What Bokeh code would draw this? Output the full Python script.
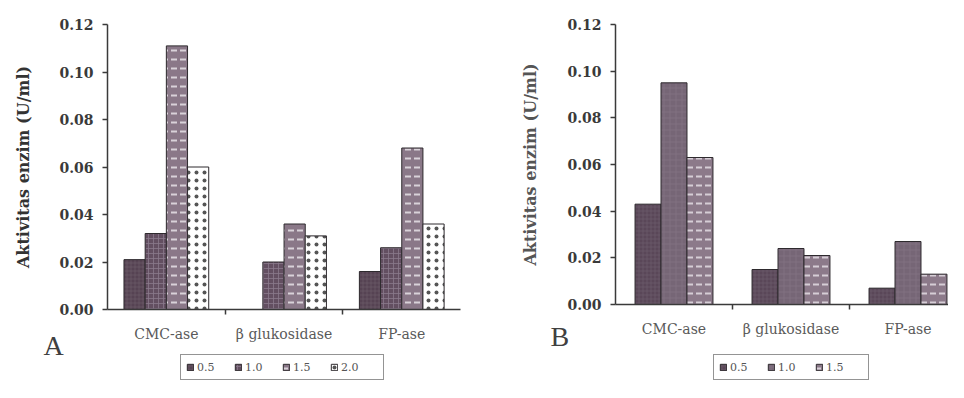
import math
from bokeh.plotting import figure
from bokeh.models import (ColumnDataSource, FixedTicker, Legend, LegendItem,
                          Label, Range1d, NumeralTickFormatter)
from bokeh.layouts import row
from bokeh.embed import file_html
from bokeh.resources import INLINE

# ---------------- data ----------------
categories = ["CMC-ase", "β glukosidase", "FP-ase"]
y_ticks = [0.00, 0.02, 0.04, 0.06, 0.08, 0.10, 0.12]

series_a = ["0.5", "1.0", "1.5", "2.0"]
a_05 = [0.021, 0.0, 0.016]
a_10 = [0.032, 0.020, 0.026]
a_15 = [0.111, 0.036, 0.068]
a_20 = [0.060, 0.031, 0.036]

series_b = ["0.5", "1.0", "1.5"]
b_05 = [0.043, 0.015, 0.007]
b_10 = [0.095, 0.024, 0.027]
b_15 = [0.063, 0.021, 0.013]

panel_a_label = "A"
panel_b_label = "B"
y_title = "Aktivitas enzim (U/ml)"

SERIF = "DejaVu Serif"
Y_MAX = 0.12

styles_a = [
    dict(fill_color="#564353", hatch_pattern="cross", hatch_color="#6e5c6b", hatch_scale=4, hatch_weight=0.6),
    dict(fill_color="#634f61", hatch_pattern="cross", hatch_color="#8a7a8c", hatch_scale=5, hatch_weight=0.8),
    dict(fill_color="#8a7888", hatch_pattern="horizontal_dash", hatch_color="#d9d2d9", hatch_scale=9, hatch_weight=2),
    dict(fill_color="#ffffff", hatch_pattern="dot", hatch_color="#555555", hatch_scale=8, hatch_weight=1.5),
]
styles_b = [
    dict(fill_color="#5a4758", hatch_pattern="cross", hatch_color="#6f5d6d", hatch_scale=4, hatch_weight=0.6),
    dict(fill_color="#766676", hatch_pattern="cross", hatch_color="#857585", hatch_scale=6, hatch_weight=0.6),
    dict(fill_color="#8c7a8a", hatch_pattern="horizontal_dash", hatch_color="#d6ced6", hatch_scale=9, hatch_weight=2),
]

FIG_H = 382


def make_panel(series_names, series_values, styles, width, axis_px, cat_px, top_px, zero_px,
               axis_end, bar_w, offsets, legend_px, tag, tag_px, ytitle_px, ylabel_color):
    # pixel anchors -> data ranges (frame == whole canvas; axes fixed at 0)
    x_start = -axis_px / cat_px
    x_end = (width - axis_px) / cat_px
    upp = Y_MAX / (zero_px - top_px)  # data units per pixel
    y_end = Y_MAX + top_px * upp
    y_start = -(FIG_H - zero_px) * upp

    p = figure(width=width, height=FIG_H, output_backend="svg", toolbar_location=None,
               x_range=Range1d(x_start, x_end), y_range=Range1d(y_start, y_end),
               min_border_left=0, min_border_right=0, min_border_top=0, min_border_bottom=0)
    p.outline_line_color = None
    p.xgrid.visible = False
    p.ygrid.visible = False
    p.background_fill_color = "white"

    centers = [i + 0.5 for i in range(len(categories))]
    items = []
    for name, vals, st, off in zip(series_names, series_values, styles, offsets):
        src = ColumnDataSource(dict(x=[c + off for c in centers], top=vals))
        r = p.vbar(x="x", top="top", bottom=0, width=bar_w, source=src,
                   line_color="#2e2a2e", line_width=1, **st)
        items.append(LegendItem(label=name, renderers=[r]))

    # y axis at x = 0
    ya = p.yaxis[0]
    ya.fixed_location = 0
    ya.bounds = (0, Y_MAX)
    ya.ticker = FixedTicker(ticks=y_ticks)
    ya.formatter = NumeralTickFormatter(format="0.00")
    ya.major_label_text_font = SERIF
    ya.major_label_text_font_style = "bold"
    ya.major_label_text_font_size = "14px"
    ya.major_label_text_color = "#3a3a3a"
    ya.major_tick_out = 5
    ya.major_tick_in = 0
    ya.minor_tick_out = 0
    ya.minor_tick_in = 0
    ya.major_label_standoff = 9
    ya.axis_line_color = "#3a3a3a"
    ya.axis_line_width = 1.5
    ya.major_tick_line_color = "#3a3a3a"
    ya.major_tick_line_width = 1.5

    # x axis at y = 0
    xa = p.xaxis[0]
    xa.fixed_location = 0
    xa.bounds = (0, axis_end)
    xa.ticker = FixedTicker(ticks=centers, minor_ticks=[1, 2])
    xa.major_label_overrides = {c: n for c, n in zip(centers, categories)}
    xa.major_label_text_font = SERIF
    xa.major_label_text_font_size = "14px"
    xa.major_label_text_color = "#5a5a5a"
    xa.major_tick_out = 0
    xa.major_tick_in = 0
    xa.minor_tick_out = 5
    xa.minor_tick_in = 0
    xa.minor_tick_line_color = "#3a3a3a"
    xa.minor_tick_line_width = 1.5
    xa.major_label_standoff = 11
    xa.axis_line_color = "#3a3a3a"
    xa.axis_line_width = 1.5

    # y axis title
    p.add_layout(Label(x=(ytitle_px - axis_px) / cat_px, y=Y_MAX / 2, text=y_title,
                       angle=math.pi / 2, text_align="center", text_baseline="middle",
                       text_font=SERIF, text_font_style="bold", text_font_size="16px",
                       text_color=ylabel_color))

    legend = Legend(items=items, orientation="horizontal", location=legend_px,
                    glyph_width=8, glyph_height=8, label_width=37, label_standoff=3,
                    spacing=0, padding=5, margin=0,
                    label_text_font=SERIF, label_text_font_size="11px",
                    label_text_color="#555555", label_height=14,
                    border_line_color="#2a2a2a", border_line_width=1.5,
                    background_fill_color="white", background_fill_alpha=1)
    p.add_layout(legend, "center")

    p.add_layout(Label(x=(tag_px[0] - axis_px) / cat_px, y=(zero_px - tag_px[1]) * upp,
                       text=tag, text_font="Liberation Serif",
                       text_font_size="28px", text_color="#404040",
                       text_baseline="alphabetic", text_align="left"))
    return p


p1 = make_panel(series_a, [a_05, a_10, a_15, a_20], styles_a, width=480,
                axis_px=107, cat_px=117.7, top_px=24, zero_px=309, axis_end=3.0,
                bar_w=0.18, offsets=[-0.27, -0.09, 0.09, 0.27],
                legend_px=(180, 2), tag=panel_a_label, tag_px=(43, 345),
                ytitle_px=23, ylabel_color="#333333")
p2 = make_panel(series_b, [b_05, b_10, b_15], styles_b, width=468,
                axis_px=135, cat_px=117.0, top_px=24, zero_px=304, axis_end=2.9,
                bar_w=0.222, offsets=[-0.222, 0.0, 0.222],
                legend_px=(233, 2), tag=panel_b_label, tag_px=(70, 336),
                ytitle_px=50, ylabel_color="#555555")

layout = row(p1, p2, spacing=0)
open("out.html", "w").write(file_html(layout, INLINE))
